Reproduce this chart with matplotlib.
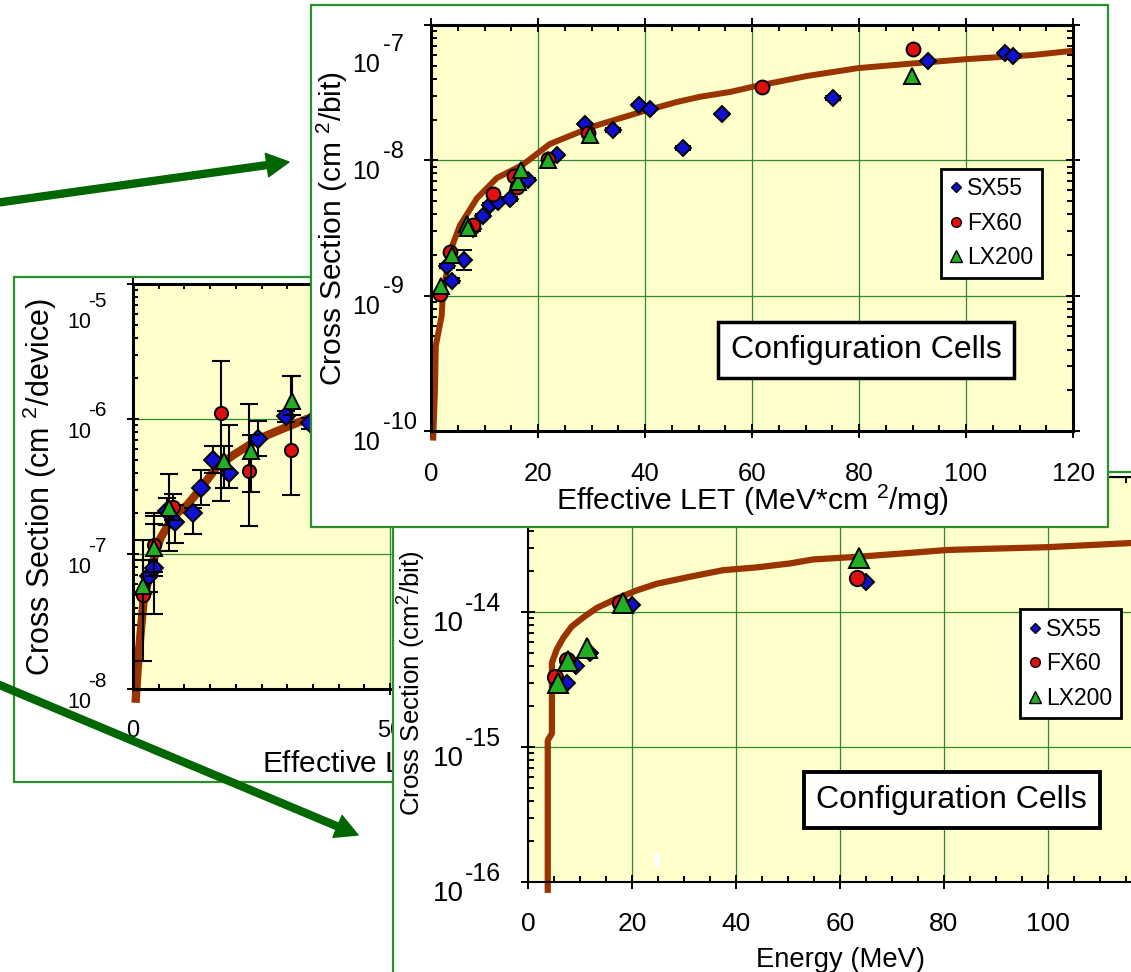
import matplotlib.pyplot as plt
import matplotlib.transforms as mtrans
import numpy as np
from matplotlib.lines import Line2D
from matplotlib.patches import FancyArrowPatch, Rectangle
from matplotlib.ticker import LogLocator, MultipleLocator, NullFormatter

plt.rcParams['font.family'] = ['Liberation Sans', 'DejaVu Sans']
plt.rcParams['mathtext.fontset'] = 'custom'
plt.rcParams['mathtext.rm'] = 'Liberation Sans'
plt.rcParams['mathtext.it'] = 'Liberation Sans:italic'

# ---- back panel (cross section per device vs LET) ----
left_fit_let = [0.5, 0.9, 1.4, 2.0, 3.3, 5.3, 7.8, 10.5, 13.0, 16.3, 19.5, 24.7, 29.2, 33.8, 45, 60]
left_fit_cs = [7.9e-9, 1.4e-8, 2.4e-8, 4.3e-8, 7.4e-8, 1.3e-7, 1.9e-7, 2.3e-7, 3.0e-7, 4.4e-7,
               5.4e-7, 7.2e-7, 8.5e-7, 1.0e-6, 1.26e-6, 1.6e-6]

left_sx_let = [3.2, 4.0, 6.6, 8.2, 11.6, 13.2, 15.6, 18.7, 24.4, 29.8, 34.4]
left_sx_cs = [6.9e-8, 7.9e-8, 2.1e-7, 1.74e-7, 2.0e-7, 3.1e-7, 5.0e-7, 4.0e-7, 7.1e-7, 1.05e-6, 9.3e-7]
left_sx_lo = [5.2e-8, 3.6e-8, 1.65e-7, 1.2e-7, 1.4e-7, 2.3e-7, 4.0e-7, 3.1e-7, 5.3e-7, 9.5e-7, 8.5e-7]
left_sx_hi = [9.1e-8, 1.9e-7, 2.6e-7, 2.3e-7, 2.2e-7, 4.2e-7, 6.3e-7, 9.1e-7, 9.6e-7, 1.15e-6, 1.02e-6]

left_fx_let = [1.9, 4.0, 7.7, 17.1, 22.6, 30.7]
left_fx_cs = [5.0e-8, 1.17e-7, 2.24e-7, 1.1e-6, 4.1e-7, 5.9e-7]
left_fx_lo = [1.6e-8, 7.4e-8, 1.8e-7, 2.45e-7, 1.6e-7, 2.75e-7]
left_fx_hi = [1.26e-7, 1.66e-7, 2.8e-7, 2.7e-6, 1.3e-6, 2.1e-6]

left_lx_let = [2.0, 4.1, 7.0, 17.7, 22.9, 30.9]
left_lx_cs = [5.75e-8, 1.1e-7, 2.2e-7, 4.9e-7, 5.75e-7, 1.35e-6]
left_lx_lo = [3.6e-8, 6.9e-8, 1.05e-7, 3.1e-7, 2.9e-7, 1.07e-6]
left_lx_hi = [9.1e-8, 2.0e-7, 3.9e-7, 6.3e-7, 7.6e-7, 2.1e-6]

# ---- front panel (configuration cells, cm^2/bit vs LET) ----
top_fit_let = [0.4, 0.75, 0.9, 2.0, 2.2, 3.6, 5.4, 8.6, 12.3, 17.2, 22.2, 30.3, 39.6, 46.0, 50.3,
               55.9, 60.2, 70.3, 79.8, 90.1, 100.2, 112.5, 120]
top_fit_cs = [8.5e-11, 2.04e-10, 4.27e-10, 7.1e-10, 1.0e-9, 2.14e-9, 3.3e-9, 5.25e-9, 7.4e-9, 9.3e-9,
              1.32e-8, 1.78e-8, 2.3e-8, 2.7e-8, 2.95e-8, 3.2e-8, 3.5e-8, 4.2e-8, 4.8e-8, 5.2e-8,
              5.6e-8, 6.0e-8, 6.45e-8]

top_sx_let = [3.0, 3.9, 6.2, 7.9, 9.7, 11.0, 12.5, 14.8, 18.1, 23.5, 28.8, 34.0, 38.9, 40.9, 47.1,
              54.4, 75.1, 92.9, 107.3, 108.8]
top_sx_cs = [1.66e-9, 1.29e-9, 1.85e-9, 3.1e-9, 3.9e-9, 4.7e-9, 4.9e-9, 5.2e-9, 7.2e-9, 1.1e-8,
             1.86e-8, 1.67e-8, 2.57e-8, 2.4e-8, 1.23e-8, 2.2e-8, 2.9e-8, 5.4e-8, 6.2e-8, 5.9e-8]
top_sx_relerr = [0.03, 0.04, 0.17, 0.03, 0.03, 0.03, 0.02, 0.03, 0.03, 0.02,
                 0.02, 0.03, 0.02, 0.02, 0.03, 0.02, 0.03, 0.02, 0.02, 0.03]

top_fx_let = [1.7, 3.6, 7.8, 11.6, 15.5, 16.1, 21.8, 29.3, 61.9, 90.1]
top_fx_cs = [1.03e-9, 2.1e-9, 3.3e-9, 5.6e-9, 7.6e-9, 6.4e-9, 1.03e-8, 1.6e-8, 3.5e-8, 6.6e-8]

top_lx_let = [1.9, 3.9, 6.7, 6.9, 16.3, 16.8, 21.8, 29.7, 89.9]
top_lx_cs = [1.17e-9, 2.0e-9, 3.4e-9, 3.15e-9, 6.9e-9, 8.5e-9, 1.0e-8, 1.55e-8, 4.2e-8]

# ---- lower panel (configuration cells, cm^2/bit vs proton energy) ----
bot_fit_e = [3.8, 3.8, 4.6, 4.6, 5.5, 6.8, 8.4, 10.6, 13.2, 17.1, 21.0, 24.8, 31.0, 37.5, 44.0,
             50.4, 54.8, 63.8, 74.0, 80.6, 90.0, 99.8, 115.8, 120]
bot_fit_cs = [8.3e-17, 1.12e-15, 1.26e-15, 4.2e-15, 5.25e-15, 6.45e-15, 7.8e-15, 9.1e-15, 1.07e-14,
              1.26e-14, 1.45e-14, 1.62e-14, 1.82e-14, 2.04e-14, 2.14e-14, 2.29e-14, 2.45e-14,
              2.57e-14, 2.75e-14, 2.88e-14, 2.95e-14, 3.02e-14, 3.24e-14, 3.3e-14]

bot_sx_e = [7.5, 9.2, 11.9, 20.0, 65.0]
bot_sx_cs = [3.0e-15, 4.0e-15, 5.0e-15, 1.12e-14, 1.67e-14]
bot_fx_e = [5.2, 7.5, 17.7, 63.3]
bot_fx_cs = [3.3e-15, 4.4e-15, 1.17e-14, 1.8e-14]
bot_lx_e = [5.8, 7.7, 11.3, 18.3, 63.7]
bot_lx_cs = [3.0e-15, 4.3e-15, 5.4e-15, 1.17e-14, 2.5e-14]

names = ['SX55', 'FX60', 'LX200']

BLUE = '#1010d0'
RED = '#e01010'
GREEN = '#22b022'
FIT = '#993300'
BG = '#ffffcc'
GRID = '#2d8a2d'
FRAME = '#2b8f2b'
ARROW = '#006600'

W, H = 1131, 972
fig = plt.figure(figsize=(W / 100, H / 100), dpi=100)


def px(x0, y0, x1, y1):
    return [x0 / W, 1 - y1 / H, (x1 - x0) / W, (y1 - y0) / H]


def frame(x0, y0, x1, y1, z):
    fig.add_artist(Rectangle((x0 / W, 1 - y1 / H), (x1 - x0) / W, (y1 - y0) / H,
                             transform=fig.transFigure, facecolor='white',
                             edgecolor=FRAME, lw=1.6, zorder=z))


def arrow(x0, y0, x1, y1, z):
    fig.add_artist(FancyArrowPatch((x0 / W, 1 - y0 / H), (x1 / W, 1 - y1 / H),
                                   transform=fig.transFigure,
                                   arrowstyle='simple,head_width=1.7,head_length=1.6,tail_width=0.5',
                                   mutation_scale=10, color=ARROW, shrinkA=0, shrinkB=0, zorder=z))


def style(ax, ylo, yhi, spw, major, pad, fs):
    ax.set_facecolor(BG)
    ax.set_yscale('log')
    ax.set_xlim(0, 120)
    ax.set_ylim(ylo, yhi)
    ax.xaxis.set_minor_locator(MultipleLocator(5))
    ax.yaxis.set_major_locator(LogLocator(base=10, numticks=10))
    ax.yaxis.set_minor_locator(LogLocator(base=10, subs=np.arange(2, 10), numticks=10))
    ax.yaxis.set_major_formatter(NullFormatter())
    ax.yaxis.set_minor_formatter(NullFormatter())
    ax.tick_params(which='both', top=True, right=True, width=1.4, color='k')
    ax.tick_params(which='major', direction='inout', length=major)
    ax.tick_params(which='minor', direction='in', length=major * 0.45)
    ax.tick_params(axis='x', which='major', pad=pad, labelsize=fs)
    for s in ax.spines.values():
        s.set_linewidth(spw)
    ax.grid(True, which='major', color=GRID, lw=0.9)
    ax.set_axisbelow(True)


def ylabels(ax, vals, x10, xexp, fs10, fsexp, dy10, dyexp, drop):
    tr = mtrans.blended_transform_factory(ax.transAxes, ax.transData)
    for v in vals:
        d = drop.get(v, 0)
        e = int(round(np.log10(v)))
        t1 = mtrans.offset_copy(tr, fig=fig, x=x10, y=dy10 - d, units='dots')
        t2 = mtrans.offset_copy(tr, fig=fig, x=xexp, y=dyexp - d, units='dots')
        ax.text(0, v, '10', transform=t1, fontsize=fs10, ha='left', va='center')
        ax.text(0, v, '-%d' % abs(e), transform=t2, fontsize=fsexp, ha='left', va='center')


def points(ax, x, y, marker, ms, fc, z, lo=None, hi=None, cap=6.5):
    if lo is not None:
        err = [np.array(y) - np.array(lo), np.array(hi) - np.array(y)]
        ax.errorbar(x, y, yerr=err, fmt='none', ecolor='k', elinewidth=1.5,
                    capsize=cap, capthick=1.5, zorder=z - 0.5)
    ax.plot(x, y, ls='none', marker=marker, ms=ms, mfc=fc, mec='k', mew=1.4, zorder=z)


def legend(ax, x, y):
    h = [Line2D([], [], ls='none', marker='D', ms=5.5, mfc=BLUE, mec='k', mew=1),
         Line2D([], [], ls='none', marker='o', ms=7, mfc=RED, mec='k', mew=1),
         Line2D([], [], ls='none', marker='^', ms=8, mfc=GREEN, mec='k', mew=1)]
    leg = ax.legend(h, names, loc='upper left', bbox_to_anchor=(x, y), borderaxespad=0,
                    fontsize=16.5, fancybox=False, edgecolor='k', framealpha=1,
                    handlelength=0.55, handletextpad=0.22, labelspacing=0.5, borderpad=0.38)
    leg.get_frame().set_linewidth(2.0)
    leg.set_zorder(20)


# ---------- back panel ----------
frame(14, 277, 900, 782, 1)
ax1 = fig.add_axes(px(133, 284, 750, 689), zorder=2)
style(ax1, 1e-8, 1e-5, 2.2, 8.6, 17.7, 17)
ax1.set_xticks([0, 50, 100])
ax1.plot(left_fit_let, left_fit_cs, color=FIT, lw=6, zorder=2, clip_on=False, solid_capstyle='butt')
points(ax1, left_sx_let, left_sx_cs, 'D', 9.5, BLUE, 4, left_sx_lo, left_sx_hi)
points(ax1, left_fx_let, left_fx_cs, 'o', 9.5, RED, 5, left_fx_lo, left_fx_hi)
points(ax1, left_lx_let, left_lx_cs, '^', 12, GREEN, 6, left_lx_lo, left_lx_hi)
ylabels(ax1, [1e-8, 1e-7, 1e-6, 1e-5], -66, -45, 15.5, 15, -13, 8, {1e-5: 26})
ax1.set_ylabel('Cross Section (cm $^{2}$/device)', fontsize=22, va='center')
ax1.yaxis.set_label_coords(-0.151, 0.499)
ax1.set_xlabel('Effective LET (MeV*cm $^{2}$/mg)', fontsize=21.5, va='center')
ax1.xaxis.set_label_coords(0.525, -0.183)

arrow(-10, 681, 358, 835, 2.5)

# ---------- lower panel ----------
frame(393, 472, 1200, 1100, 3)
ax3 = fig.add_axes(px(528, 477, 1152, 882), zorder=4)
style(ax3, 1e-16, 1e-13, 1.5, 9.4, 16.9, 19)
ax3.set_xticks([0, 20, 40, 60, 80, 100])
ax3.plot(bot_fit_e, bot_fit_cs, color=FIT, lw=4.5, zorder=2, clip_on=False, solid_capstyle='butt')
points(ax3, bot_sx_e, bot_sx_cs, 'D', 8.5, BLUE, 4)
points(ax3, bot_fx_e, bot_fx_cs, 'o', 11, RED, 5)
points(ax3, bot_lx_e, bot_lx_cs, '^', 14, GREEN, 6)
ylabels(ax3, [1e-16, 1e-15, 1e-14], -95, -63, 20, 18, -11.5, 8.5, {})
ax3.set_ylabel('Cross Section (cm$^{2}$/bit)', fontsize=18.6, va='center')
ax3.yaxis.set_label_coords(-0.186, 0.491)
ax3.set_xlabel('Energy (MeV)', fontsize=19.7, va='center')
ax3.xaxis.set_label_coords(0.5, -0.193)
legend(ax3, 0.788, 0.674)
ax3.text(0.679, 0.202, 'Configuration Cells', transform=ax3.transAxes, fontsize=23,
         ha='center', va='center', zorder=20,
         bbox=dict(boxstyle='square,pad=0.4', fc='white', ec='k', lw=2.8))
fig.add_artist(Rectangle((654 / W, 1 - 866 / H), 6 / W, 12 / H, transform=fig.transFigure,
                         facecolor='white', edgecolor='none', zorder=4.6))

# ---------- front panel ----------
frame(311, 5, 1108, 527, 5)
ax2 = fig.add_axes(px(431, 25, 1073, 431), zorder=6)
style(ax2, 1e-10, 1e-7, 2.2, 9.6, 17.5, 18.5)
ax2.set_xticks([0, 20, 40, 60, 80, 100, 120])
ax2.plot(top_fit_let, top_fit_cs, color=FIT, lw=4.3, zorder=2, clip_on=False, solid_capstyle='butt')
sx_err = np.array(top_sx_cs) * np.array(top_sx_relerr)
ax2.errorbar(top_sx_let, top_sx_cs, yerr=sx_err, fmt='none', ecolor='k', elinewidth=1.4,
             capsize=6, capthick=1.4, zorder=3.5)
points(ax2, top_sx_let, top_sx_cs, 'D', 8.5, BLUE, 4)
points(ax2, top_fx_let, top_fx_cs, 'o', 10, RED, 5)
points(ax2, top_lx_let, top_lx_cs, '^', 12, GREEN, 6)
ylabels(ax2, [1e-10, 1e-9, 1e-8, 1e-7], -79, -48, 18, 17, -11.5, 8.5, {1e-7: 28})
ax2.set_ylabel('Cross Section (cm $^{2}$/bit)', fontsize=21.5, va='center')
ax2.yaxis.set_label_coords(-0.154, 0.5)
ax2.set_xlabel('Effective LET (MeV*cm $^{2}$/mg)', fontsize=21.7, va='center')
ax2.xaxis.set_label_coords(0.5, -0.17)
legend(ax2, 0.794, 0.646)
ax2.text(0.678, 0.199, 'Configuration Cells', transform=ax2.transAxes, fontsize=23,
         ha='center', va='center', zorder=20,
         bbox=dict(boxstyle='square,pad=0.4', fc='white', ec='k', lw=2.5))

arrow(-5, 203, 289, 162, 7)

fig.savefig('out.png', dpi=100)
